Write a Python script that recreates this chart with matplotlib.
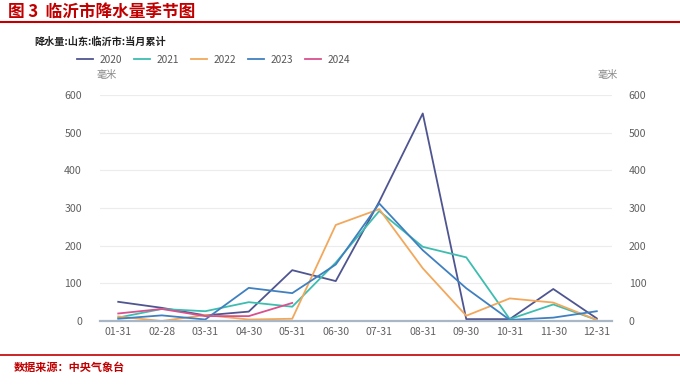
import numpy as np
import matplotlib
matplotlib.use("Agg")
import matplotlib.pyplot as plt
from matplotlib.lines import Line2D

plt.rcParams['font.family'] = ['Noto Sans CJK SC', 'DejaVu Sans']

months = ["01-31", "02-28", "03-31", "04-30", "05-31", "06-30",
          "07-31", "08-31", "09-30", "10-31", "11-30", "12-31"]

y2020 = [51, 35, 15, 25, 135, 106, 317, 551, 5, 5, 85, 7]
y2021 = [9, 32, 26, 50, 38, 155, 292, 197, 169, 5, 44, 3]
y2022 = [12, 0, 16, 4, 6, 255, 297, 140, 14, 60, 49, 3]
y2023 = [6, 15, 4, 88, 74, 150, 312, 188, 87, 3, 9, 26]
y2024 = [20, 32, 13, 13, 48]

series = [("2020", y2020, "#4f5590"),
          ("2021", y2021, "#3dbdb0"),
          ("2022", y2022, "#f2a85c"),
          ("2023", y2023, "#3f80c0"),
          ("2024", y2024, "#d9508e")]

fig = plt.figure(figsize=(6.8, 3.87), dpi=100)
ax = fig.add_axes([0.147, 0.1705, 0.753, 0.584])

x = np.arange(len(months))
for name, vals, c in series:
    ax.plot(x[:len(vals)], vals, color=c, lw=1.3)

ax.set_xlim(-0.42, 11.35)
ax.set_ylim(0, 600)
ax.set_yticks(range(0, 601, 100))
ax.set_xticks(x)
ax.set_xticklabels(months)
ax.grid(axis='y', color='#ececec', lw=0.8)
ax.set_axisbelow(True)
for s in ['top', 'right', 'left']:
    ax.spines[s].set_visible(False)
ax.spines['bottom'].set_color('#a9b6c6')
ax.spines['bottom'].set_linewidth(1.6)
ax.tick_params(axis='both', length=0, labelsize=7.6, colors='#606060', pad=4)
ax.tick_params(axis='y', pad=13)

ax2 = ax.twinx()
ax2.set_ylim(0, 600)
ax2.set_yticks(range(0, 601, 100))
for s in ax2.spines.values():
    s.set_visible(False)
ax2.tick_params(axis='y', length=0, labelsize=7.6, colors='#606060', pad=12)

# title block
fig.text(0.012, 0.968, "图 3  临沂市降水量季节图", color='#c00000', fontsize=12,
         fontweight='bold', va='center', ha='left')
fig.add_artist(Line2D([0.0, 1.0], [0.942, 0.942], color='#c00000', lw=1.5))
fig.text(0.05, 0.892, "降水量:山东:临沂市:当月累计", color='#222222', fontsize=7.3,
         fontweight='bold', va='center', ha='left')

handles = [Line2D([], [], color=c, lw=1.3) for _, _, c in series]
fig.legend(handles, [n for n, _, _ in series], loc='center left',
           bbox_to_anchor=(0.1, 0.845), ncol=5, frameon=False, fontsize=7.3,
           handlelength=1.6, columnspacing=1.2, handletextpad=0.6,
           labelcolor='#555555')

fig.text(0.157, 0.805, "毫米", color='#888888', fontsize=7.3, ha='center', va='center')
fig.text(0.893, 0.805, "毫米", color='#888888', fontsize=7.3, ha='center', va='center')

# source
fig.add_artist(Line2D([0.0, 1.0], [0.083, 0.083], color='#c00000', lw=1.2))
fig.text(0.02, 0.05, "数据来源：中央气象台", color='#c00000', fontsize=8,
         fontweight='bold', va='center', ha='left')

fig.savefig("out.png", dpi=100)
